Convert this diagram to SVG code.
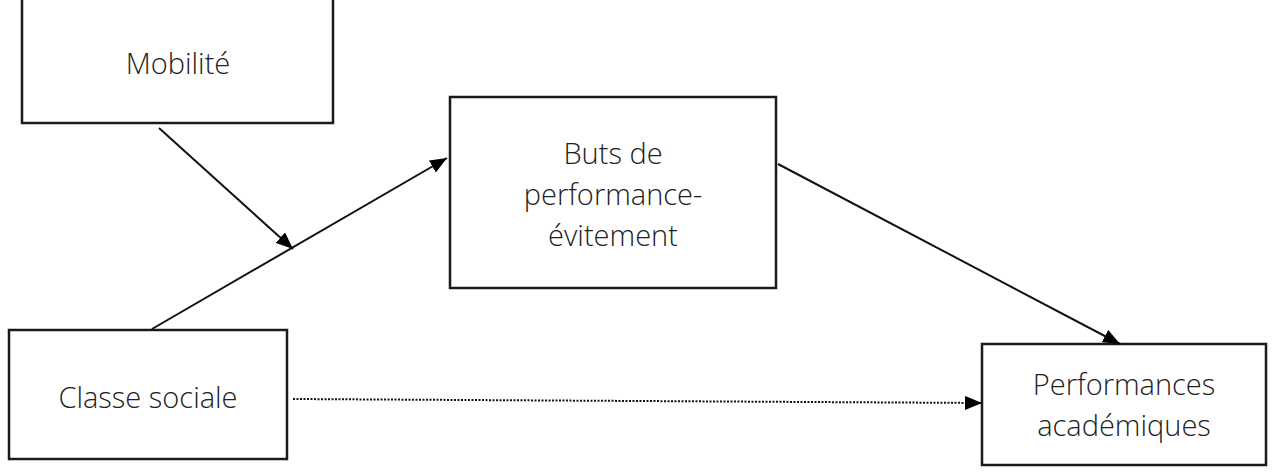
<svg xmlns="http://www.w3.org/2000/svg" width="1278" height="472" viewBox="0 0 1278 472">
<style>
.box{fill:#fff;stroke:#1a1a1a;stroke-width:2.5}
.lbl{font-family:"Open Sans","Liberation Sans",sans-serif;font-weight:300;font-size:29px;fill:#222;text-anchor:middle}
.edge{stroke:#111;stroke-width:2;fill:none}
.dot{stroke:#111;stroke-width:2;fill:none;stroke-dasharray:2 1.5}
</style>
<defs>
<marker id="ah" markerWidth="17" markerHeight="14" refX="17" refY="7" orient="auto" markerUnits="userSpaceOnUse">
<path d="M0,0 L17,7 L0,14 z" fill="#000"/>
</marker>
</defs>
<rect width="1278" height="472" fill="#fff"/>
<g id="n-mobilite">
<rect class="box" x="22" y="-2" width="311" height="125"/>
<text class="lbl" x="178" y="74">Mobilité</text>
</g>
<g id="n-buts">
<rect class="box" x="450" y="97" width="326" height="191"/>
<text class="lbl" x="613" y="164">Buts de</text>
<text class="lbl" x="613" y="205">performance-</text>
<text class="lbl" x="613" y="246">évitement</text>
</g>
<g id="n-classe">
<rect class="box" x="9" y="330" width="278" height="129"/>
<text class="lbl" x="148" y="408">Classe sociale</text>
</g>
<g id="n-perf">
<rect class="box" x="982" y="344" width="284" height="121"/>
<text class="lbl" x="1124" y="395">Performances</text>
<text class="lbl" x="1124" y="436">académiques</text>
</g>
<g id="connectors">
<line class="edge" x1="159" y1="128" x2="293" y2="249" marker-end="url(#ah)"/>
<line class="edge" x1="152" y1="329" x2="447" y2="158" marker-end="url(#ah)"/>
<line class="edge" x1="778" y1="164" x2="1120" y2="344" marker-end="url(#ah)"/>
<line class="dot" x1="293" y1="399" x2="982" y2="403" marker-end="url(#ah)"/>
</g>
</svg>
